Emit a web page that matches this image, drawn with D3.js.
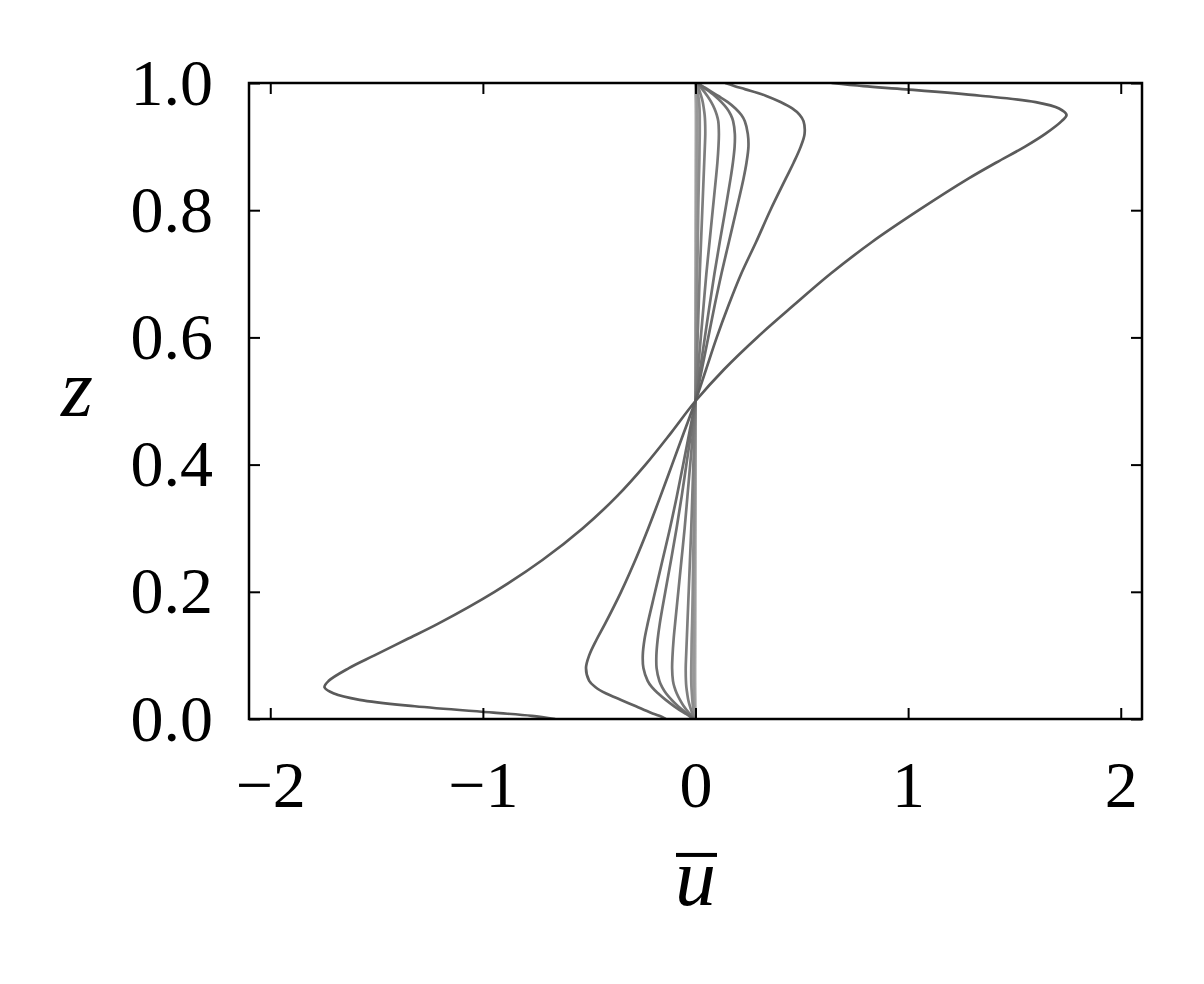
<!DOCTYPE html>
<html>
<head>
<meta charset="utf-8">
<script src="https://cdn.jsdelivr.net/npm/d3@7"></script>
<style>
  html, body { margin: 0; padding: 0; background: #fff; }
  svg { display: block; }
  text { font-family: "Liberation Serif", "DejaVu Serif", serif; fill: #000; }
</style>
</head>
<body>
<svg id="chart" width="1204" height="984"></svg>
<script>
// ---------------- data ----------------
const zGrid = [0, 0.005, 0.01, 0.02, 0.03, 0.04, 0.05, 0.06, 0.08, 0.1, 0.125, 0.15, 0.2, 0.25, 0.3, 0.35, 0.4, 0.45, 0.5,
               0.55, 0.6, 0.65, 0.7, 0.75, 0.8, 0.85, 0.875, 0.9, 0.92, 0.94, 0.95, 0.96, 0.97, 0.98, 0.99, 0.995, 1.0];

const u1 = [-0.66, -0.77, -0.95, -1.32, -1.58, -1.70, -1.745, -1.725, -1.63, -1.51, -1.36, -1.21, -0.945, -0.72, -0.53, -0.37, -0.235, -0.115, 0,
            0.135, 0.29, 0.46, 0.635, 0.83, 1.05, 1.285, 1.415, 1.55, 1.645, 1.722, 1.745, 1.71, 1.60, 1.34, 0.99, 0.79, 0.64];
const u2 = [-0.14, -0.17, -0.21, -0.28, -0.35, -0.42, -0.47, -0.50, -0.515, -0.50, -0.465, -0.425, -0.35, -0.283, -0.222, -0.165, -0.11, -0.055, 0,
            0.05, 0.1, 0.155, 0.215, 0.285, 0.352, 0.425, 0.462, 0.495, 0.513, 0.508, 0.49, 0.455, 0.40, 0.33, 0.235, 0.185, 0.14];
const u3 = [-0.01, -0.03, -0.055, -0.10, -0.14, -0.175, -0.205, -0.225, -0.245, -0.248, -0.24, -0.225, -0.19, -0.155, -0.12, -0.088, -0.058, -0.029, 0,
            0.03, 0.06, 0.09, 0.122, 0.157, 0.192, 0.226, 0.24, 0.249, 0.246, 0.232, 0.215, 0.188, 0.152, 0.105, 0.058, 0.032, 0.01];
const u4 = [-0.008, -0.025, -0.045, -0.082, -0.112, -0.138, -0.157, -0.17, -0.183, -0.184, -0.178, -0.168, -0.142, -0.115, -0.089, -0.065, -0.043, -0.021, 0,
            0.022, 0.044, 0.066, 0.089, 0.114, 0.14, 0.165, 0.176, 0.184, 0.185, 0.177, 0.166, 0.148, 0.122, 0.09, 0.05, 0.028, 0.008];
const u5 = [-0.005, -0.018, -0.032, -0.055, -0.073, -0.088, -0.099, -0.106, -0.11, -0.108, -0.103, -0.096, -0.081, -0.066, -0.051, -0.038, -0.025, -0.012, 0,
            0.012, 0.025, 0.038, 0.051, 0.066, 0.081, 0.096, 0.103, 0.108, 0.11, 0.107, 0.1, 0.089, 0.074, 0.055, 0.032, 0.018, 0.005];
const u6 = [-0.002, -0.009, -0.016, -0.026, -0.034, -0.039, -0.043, -0.045, -0.046, -0.044, -0.041, -0.038, -0.032, -0.026, -0.02, -0.015, -0.01, -0.005, 0,
            0.005, 0.01, 0.015, 0.02, 0.026, 0.032, 0.038, 0.041, 0.044, 0.046, 0.045, 0.043, 0.039, 0.034, 0.026, 0.016, 0.009, 0.002];
const u7 = [0, -0.004, -0.007, -0.012, -0.015, -0.017, -0.019, -0.02, -0.02, -0.019, -0.018, -0.016, -0.013, -0.011, -0.008, -0.006, -0.004, -0.002, 0,
            0.002, 0.004, 0.006, 0.008, 0.011, 0.013, 0.016, 0.018, 0.019, 0.02, 0.02, 0.02, 0.019, 0.017, 0.013, 0.008, 0.004, 0];
const u8 = [0, -0.002, -0.003, -0.005, -0.007, -0.008, -0.0085, -0.009, -0.009, -0.0085, -0.008, -0.0072, -0.006, -0.005, -0.0037, -0.0027, -0.0018, -0.0009, 0,
            0.0009, 0.0018, 0.0027, 0.0037, 0.005, 0.006, 0.0072, 0.008, 0.0085, 0.009, 0.009, 0.009, 0.0085, 0.008, 0.006, 0.004, 0.002, 0];
const u9 = [0, -0.001, -0.0015, -0.0025, -0.003, -0.0035, -0.0038, -0.004, -0.004, -0.0038, -0.0035, -0.0032, -0.0027, -0.0022, -0.0017, -0.0012, -0.0008, -0.0004, 0,
            0.0004, 0.0008, 0.0012, 0.0017, 0.0022, 0.0027, 0.0032, 0.0035, 0.0038, 0.004, 0.004, 0.004, 0.0038, 0.0035, 0.0025, 0.0015, 0.001, 0];
const u10 = [0, -0.0004, -0.0006, -0.0009, -0.0011, -0.0013, -0.0014, -0.0015, -0.0015, -0.0014, -0.0013, -0.0012, -0.001, -0.0008, -0.0006, -0.0004, -0.0003, -0.0001, 0,
             0.0001, 0.0003, 0.0004, 0.0006, 0.0008, 0.001, 0.0012, 0.0013, 0.0014, 0.0015, 0.0015, 0.0015, 0.0014, 0.0012, 0.0009, 0.0006, 0.0004, 0];

const profiles = [u1, u2, u3, u4, u5, u6, u7, u8, u9, u10];
const profileColors = ["#5a5a5a", "#606060", "#6a6a6a", "#707070", "#777777", "#7e7e7e", "#8c8c8c", "#989898", "#a4a4a4", "#b0b0b0"];

const xTicks = [-2, -1, 0, 1, 2];
const yTicks = [0, 0.2, 0.4, 0.6, 0.8, 1.0];
const xTickLabels = ["\u22122", "\u22121", "0", "1", "2"];
const yTickLabels = ["0.0", "0.2", "0.4", "0.6", "0.8", "1.0"];
const xLabel = "u";
const yLabel = "z";

// ---------------- layout ----------------
const plot = { left: 249, top: 83, right: 1142, bottom: 719 };
const svg = d3.select("#chart");

const x = d3.scaleLinear().domain([-2.1, 2.1]).range([plot.left, plot.right]);
const y = d3.scaleLinear().domain([0, 1]).range([plot.bottom, plot.top]);

const tickLen = 11;
const tickFont = 66;
const labelFont = 82;

const line = d3.line()
  .x(d => x(d.u))
  .y(d => y(d.z))
  .curve(d3.curveCatmullRom.alpha(0.5));

svg.append("clipPath").attr("id", "clip")
  .append("rect").attr("x", plot.left).attr("y", plot.top)
  .attr("width", plot.right - plot.left).attr("height", plot.bottom - plot.top);

const gLines = svg.append("g").attr("clip-path", "url(#clip)");
d3.range(profiles.length).reverse().forEach(i => {
  const pts = zGrid.map((z, k) => ({ z: z, u: profiles[i][k] }));
  gLines.append("path")
    .datum(pts)
    .attr("d", line)
    .attr("fill", "none")
    .attr("stroke", profileColors[i])
    .attr("stroke-width", 2.7)
    .attr("stroke-linejoin", "round");
});

function styleAxis(g, showLabels) {
  g.select(".domain").remove();
  g.selectAll(".tick line").attr("stroke", "#000").attr("stroke-width", 2);
  if (!showLabels) g.selectAll(".tick text").remove();
  else g.selectAll(".tick text")
        .attr("font-family", "'Liberation Serif', 'DejaVu Serif', serif")
        .attr("font-size", tickFont)
        .attr("fill", "#000");
}

svg.append("g")
  .attr("transform", `translate(0,${plot.bottom})`)
  .call(d3.axisBottom(x).tickValues(xTicks).tickFormat((d, i) => xTickLabels[i])
        .tickSize(-tickLen).tickSizeOuter(0).tickPadding(41))
  .call(g => styleAxis(g, true));

svg.append("g")
  .attr("transform", `translate(0,${plot.top})`)
  .call(d3.axisTop(x).tickValues(xTicks).tickSize(-tickLen).tickSizeOuter(0))
  .call(g => styleAxis(g, false));

svg.append("g")
  .attr("transform", `translate(${plot.left},0)`)
  .call(d3.axisLeft(y).tickValues(yTicks).tickFormat((d, i) => yTickLabels[i])
        .tickSize(-tickLen).tickSizeOuter(0).tickPadding(36))
  .call(g => styleAxis(g, true));

svg.append("g")
  .attr("transform", `translate(${plot.right},0)`)
  .call(d3.axisRight(y).tickValues(yTicks).tickSize(-tickLen).tickSizeOuter(0))
  .call(g => styleAxis(g, false));

svg.append("rect")
  .attr("x", plot.left).attr("y", plot.top)
  .attr("width", plot.right - plot.left).attr("height", plot.bottom - plot.top)
  .attr("fill", "none").attr("stroke", "#000").attr("stroke-width", 2.5);

// axis labels
const xLabelBaseline = 905;
const xl = svg.append("text")
  .attr("x", (plot.left + plot.right) / 2)
  .attr("y", xLabelBaseline)
  .attr("text-anchor", "middle")
  .attr("font-style", "italic")
  .attr("font-size", labelFont)
  .text(xLabel);
const bb = xl.node().getBBox();
svg.append("rect")
  .attr("x", bb.x + 1).attr("width", bb.width)
  .attr("y", xLabelBaseline - 0.635 * labelFont).attr("height", 4)
  .attr("fill", "#000");

svg.append("text")
  .attr("x", 77)
  .attr("y", 416)
  .attr("text-anchor", "middle")
  .attr("font-style", "italic")
  .attr("font-size", labelFont)
  .text(yLabel);
</script>
</body>
</html>
